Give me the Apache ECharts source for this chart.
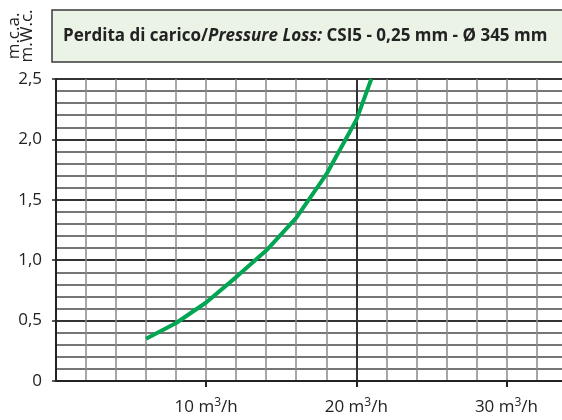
<!DOCTYPE html>
<html>
<head>
<meta charset="utf-8">
<script src="https://cdn.jsdelivr.net/npm/echarts@6/dist/echarts.min.js"></script>
<style>
  html, body { margin: 0; padding: 0; background: #fff; }
  #chart { width: 562px; height: 420px; }
</style>
</head>
<body>
<div id="chart"></div>
<script>
// portata m3/h e perdita di carico m.c.a.
const flow = [6, 8, 10, 12, 14, 16, 18, 20, 21];
const loss = [0.35, 0.48, 0.65, 0.86, 1.08, 1.35, 1.71, 2.16, 2.5];
const xTicks = [10, 20, 30];
const yTicks = [0, 0.5, 1.0, 1.5, 2.0, 2.5];

const font = '"Open Sans", "Noto Sans", sans-serif';
const myChart = echarts.init(document.getElementById('chart'));

myChart.setOption({
  animation: false,
  textStyle: { fontFamily: font },
  grid: { left: 56, top: 79, right: 0, bottom: 39 },
  graphic: [
    {
      type: 'rect',
      shape: { x: 52, y: 10, width: 530, height: 52 },
      style: { fill: '#eaf3e5', stroke: '#3a3a3a', lineWidth: 1.5 }
    },
    {
      type: 'text',
      x: 63, y: 36,
      style: {
        text: '{b|Perdita di carico/}{i|Pressure Loss:}{b| CSI5 - 0,25 mm - Ø 345 mm}',
        verticalAlign: 'middle',
        rich: {
          b: { fontFamily: font, fontSize: 17, fontWeight: 'bold', fill: '#222' },
          i: { fontFamily: font, fontSize: 17, fontWeight: 'bold', fontStyle: 'italic', fill: '#222' }
        }
      }
    },
    {
      type: 'text', x: 14, y: 36, rotation: Math.PI / 2,
      style: { text: 'm.c.a.', align: 'center', verticalAlign: 'middle', fontFamily: font, fontSize: 17, fill: '#222' }
    },
    {
      type: 'text', x: 27, y: 36, rotation: Math.PI / 2,
      style: { text: 'm.W.c.', align: 'center', verticalAlign: 'middle', fontFamily: font, fontSize: 17, fill: '#222' }
    }
  ],
  xAxis: [
    {
      type: 'value', position: 'bottom', min: 0, max: 33.7, interval: 2,
      axisLine: { show: true, onZero: false, lineStyle: { color: '#222', width: 2 } },
      axisTick: { show: false },
      axisLabel: { show: false },
      splitLine: { show: true, showMaxLine: false, lineStyle: { color: '#8a8a8a', width: 1.5 } }
    },
    {
      type: 'value', position: 'bottom', min: 0, max: 33.7, interval: 10,
      axisLine: { show: false, onZero: false },
      axisTick: { show: true, customValues: xTicks, length: 6, lineStyle: { color: '#222', width: 2 } },
      axisLabel: {
        customValues: xTicks, margin: 16,
        formatter: v => '{a|' + v + ' m}{s|3}{a|/h}',
        rich: {
          a: { fontFamily: font, fontSize: 17, color: '#222' },
          s: { fontFamily: font, fontSize: 12, color: '#222', verticalAlign: 'top', padding: [0, 0, 8, 0] }
        }
      },
      splitLine: { show: true, showMinLine: false, showMaxLine: false, lineStyle: { color: '#333', width: 2 } }
    }
  ],
  yAxis: {
    type: 'value', min: 0, max: 2.5, interval: 0.5,
    axisLine: { show: true, lineStyle: { color: '#222', width: 2 } },
    axisTick: { show: true, customValues: yTicks, length: 4, lineStyle: { color: '#222', width: 1.5 } },
    axisLabel: {
      margin: 14, fontSize: 17, color: '#222',
      formatter: v => v === 0 ? '0' : v.toFixed(1).replace('.', ',')
    },
    splitLine: { show: true, lineStyle: { color: '#333', width: 2 } },
    minorTick: { show: false, splitNumber: 5 },
    minorSplitLine: { show: true, lineStyle: { color: '#4a4a4a', width: 1.5 } }
  },
  series: [
    {
      type: 'line',
      xAxisIndex: 0,
      data: flow.map((f, i) => [f, loss[i]]),
      showSymbol: false,
      smooth: false,
      lineStyle: { color: '#00a651', width: 4 },
      z: 5
    }
  ]
});
</script>
</body>
</html>
